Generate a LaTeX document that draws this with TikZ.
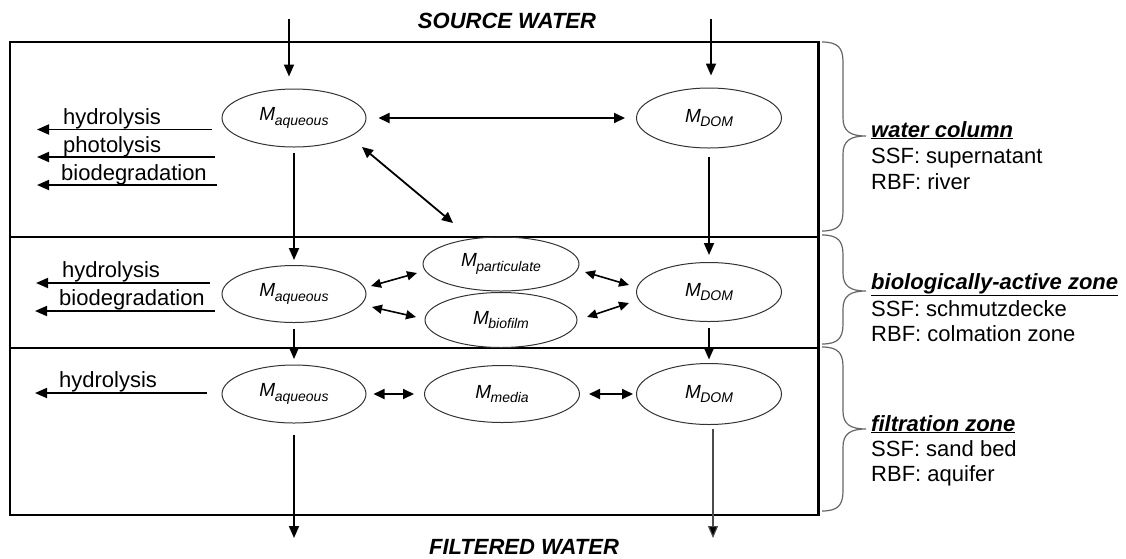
\documentclass[tikz,border=0pt]{standalone}
\usepackage{fontspec}
\setmainfont{Liberation Sans}
\usetikzlibrary{arrows.meta,shapes.geometric}

\newcommand{\mlab}[1]{{\fontsize{19}{19}\selectfont\itshape M}\kern-0.5pt\raisebox{-4.5pt}{\fontsize{14}{14}\selectfont\itshape #1}}
\newcommand{\rbrc}[3]{%
  \draw[brc] (822,#1) .. controls (838,#1) and (843,#1+6) .. (843,#1+20)
    -- (843,#2-18) .. controls (843,#2-5) and (850,#2) .. (866,#2)
    .. controls (850,#2) and (843,#2+5) .. (843,#2+18)
    -- (843,#3-20) .. controls (843,#3-6) and (838,#3) .. (822,#3);}

\begin{document}
\begin{tikzpicture}[x=1pt,y=-1pt,
  state/.style={ellipse, draw=black!80, line width=1pt, inner sep=0pt},
  arr/.style={line width=1.8pt, -{Triangle[length=12pt,width=10pt]}},
  thinarr/.style={line width=1.1pt, draw=black!70, -{Triangle[length=12pt,width=10pt,fill=black]}},
  darr/.style={line width=1.8pt, {Triangle[length=11pt,width=10pt]}-{Triangle[length=11pt,width=10pt]}},
  sarr/.style={line width=1.6pt, {Triangle[length=10pt,width=9pt]}-{Triangle[length=10pt,width=9pt]}},
  lbl/.style={anchor=base west, font=\fontsize{22}{26}\selectfont, inner sep=0pt},
  zlbl/.style={anchor=base west, font=\fontsize{22}{26}\selectfont\bfseries\itshape, inner sep=0pt},
  ttl/.style={anchor=base, font=\fontsize{22}{26}\selectfont\bfseries\itshape, inner sep=0pt},
  brc/.style={line width=1.2pt, draw=black!60},
  boxline/.style={line width=1.8pt}
]
\useasboundingbox (0,0) rectangle (1126,558);

% frame
\draw[boxline] (818,42) -- (10,42) -- (10,515) -- (818,515);
\draw[boxline] (10,237) -- (818,237);
\draw[boxline] (10,348) -- (818,348);
\draw[line width=3pt] (818,41) -- (818,516);

% nodes
\node[state, minimum width=144pt, minimum height=58pt] (maq1) at (294,118) {\mlab{aqueous}};
\node[state, minimum width=145pt, minimum height=60pt] (mdom1) at (709,118) {\mlab{DOM}};
\node[state, minimum width=144pt, minimum height=57pt] (maq2) at (294,294) {\mlab{aqueous}};
\node[state, minimum width=156pt, minimum height=54pt] (mpart) at (501,264) {\mlab{particulate}};
\node[state, minimum width=152pt, minimum height=55pt] (mbio) at (501,320) {\mlab{biofilm}};
\node[state, minimum width=145pt, minimum height=59pt] (mdom2) at (709,292) {\mlab{DOM}};
\node[state, minimum width=144pt, minimum height=58pt] (maq3) at (294,394) {\mlab{aqueous}};
\node[state, minimum width=155pt, minimum height=57pt] (mmed) at (502,394) {\mlab{media}};
\node[state, minimum width=145pt, minimum height=61pt] (mdom3) at (709,394) {\mlab{DOM}};

% titles
\node[ttl] (src) at (507,28.5) {SOURCE WATER};
\node[ttl] (flt) at (524,554) {FILTERED WATER};

% inflow / outflow
\coordinate (in1) at (289,19);
\coordinate (in2) at (711,19);
\coordinate (out1) at (294,538);
\coordinate (out2) at (713,538);
\draw[arr, shorten >=12pt] (in1) -- (in1 |- maq1.north);
\draw[arr, shorten >=12pt] (in2) -- (in2 |- mdom1.north);
\draw[arr, shorten <=11pt] (maq3.south) -- (out1);
\draw[thinarr, shorten <=4pt] (mdom3.south -| out2) -- (out2);

% vertical transfers
\draw[arr, shorten <=5pt, shorten >=5pt] (maq1.south) -- (maq2.north);
\draw[arr, shorten <=5.5pt, shorten >=5.5pt] (maq2.south) -- (maq3.north);
\draw[arr, shorten <=8pt, shorten >=7pt] (mdom1.south) -- (mdom2.north);
\draw[arr, shorten <=6pt, shorten >=3.5pt] (mdom2.south) -- (mdom3.north);

% exchanges
\draw[darr, shorten <=12pt, shorten >=11pt] (maq1.east) -- (mdom1.west);
\coordinate (dg1) at (362,147);
\coordinate (dg2) at (453,223);
\draw[darr] (dg1) -- (dg2);
\coordinate (e1a) at (371,286); \coordinate (e1b) at (417,273);
\coordinate (e2a) at (372,307); \coordinate (e2b) at (416,317);
\coordinate (e3a) at (585,272); \coordinate (e3b) at (629,285);
\coordinate (e4a) at (587,317); \coordinate (e4b) at (629,303);
\draw[sarr] (e1a) -- (e1b);
\draw[sarr] (e2a) -- (e2b);
\draw[sarr] (e3a) -- (e3b);
\draw[sarr] (e4a) -- (e4b);
\draw[darr, shorten <=7pt, shorten >=10pt] (maq3.east) -- (mmed.west);
\draw[darr, shorten <=9pt, shorten >=3pt] (mmed.east) -- (mdom3.west);

% loss processes
\coordinate (h1a) at (212,129.5); \coordinate (h1b) at (37,129.5);
\coordinate (p1a) at (215,157);   \coordinate (p1b) at (37,157);
\coordinate (b1a) at (217,185);   \coordinate (b1b) at (37,185);
\coordinate (h2a) at (210,283);   \coordinate (h2b) at (36,283);
\coordinate (b2a) at (215,311);   \coordinate (b2b) at (35,311);
\coordinate (h3a) at (207,393);   \coordinate (h3b) at (35,393);
\draw[arr] (h1a) -- (h1b);
\draw[arr] (p1a) -- (p1b);
\draw[arr] (b1a) -- (b1b);
\draw[arr] (h2a) -- (h2b);
\draw[arr] (b2a) -- (b2b);
\draw[arr] (h3a) -- (h3b);
\node[lbl] (th1) at (63,124) {hydrolysis};
\node[lbl] (tp1) at (63,152) {photolysis};
\node[lbl] (tb1) at (61,180) {biodegradation};
\node[lbl] (th2) at (62,277.5) {hydrolysis};
\node[lbl] (tb2) at (59,305) {biodegradation};
\node[lbl] (th3) at (59,387) {hydrolysis};

% braces
\rbrc{42}{136}{231}
\rbrc{235}{291}{344}
\rbrc{347}{429}{511}

% zone labels
\node[zlbl] (z1) at (871,137) {\underline{water column}};
\node[lbl] (z1a) at (871,163) {SSF: supernatant};
\node[lbl] (z1b) at (871,189) {RBF: river};
\node[zlbl] (z2) at (871,289) {\underline{biologically-active zone}};
\node[lbl] (z2a) at (871,316) {SSF: schmutzdecke};
\node[lbl] (z2b) at (871,341) {RBF: colmation zone};
\node[zlbl] (z3) at (871,431) {\underline{filtration zone}};
\node[lbl] (z3a) at (871,456) {SSF: sand bed};
\node[lbl] (z3b) at (871,481) {RBF: aquifer};
\end{tikzpicture}
\end{document}
